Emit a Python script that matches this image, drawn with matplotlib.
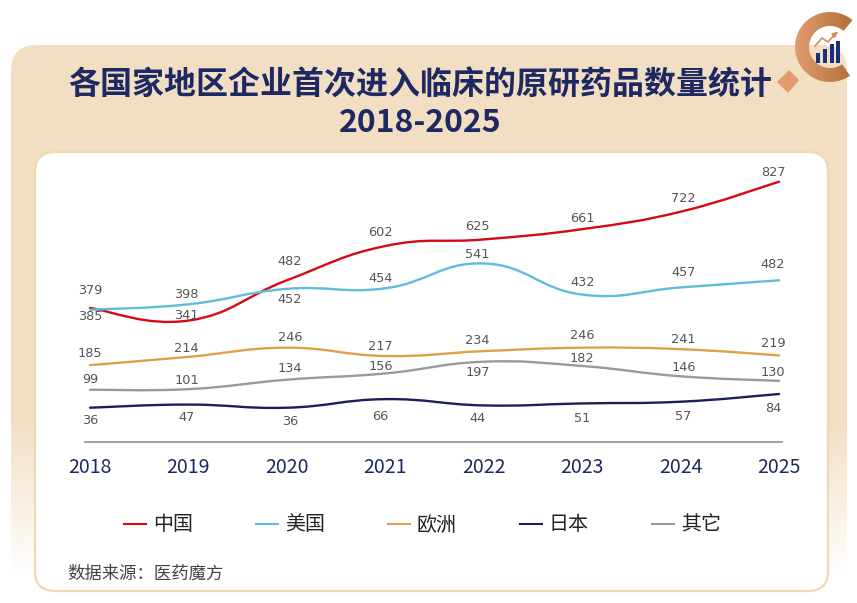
import numpy as np
import matplotlib.pyplot as plt
from matplotlib.path import Path
from matplotlib.patches import PathPatch, FancyBboxPatch, Wedge, Polygon, Rectangle
from matplotlib.lines import Line2D
from matplotlib.colors import to_rgb

plt.rcParams['font.family'] = ['Noto Sans CJK SC', 'DejaVu Sans']

# data
years = ['2018', '2019', '2020', '2021', '2022', '2023', '2024', '2025']
china = [385, 341, 482, 602, 625, 661, 722, 827]
usa = [379, 398, 452, 454, 541, 432, 457, 482]
europe = [185, 214, 246, 217, 234, 246, 241, 219]
japan = [36, 47, 36, 66, 44, 51, 57, 84]
others = [99, 101, 134, 156, 197, 182, 146, 130]
names = ['中国', '美国', '欧洲', '日本', '其它']

colors = ['#d40b14', '#5ebddc', '#e0a048', '#1a1f5c', '#9a9a9a']

# label offsets in pixels (up is positive)
label_up = [
    [-9, 5, 19, 14, 13, 11, 13, 9],
    [19, 10, -11, 10, 9, 12, 15, 16],
    [12, 8, 10, 9, 11, 12, 10, 12],
    [-13, -13, -14, -17, -13, -15, -15, -14],
    [10, 9, 11, 7, -11, 7, 9, 8],
]
label_dx = [0, -2, 3, -5, -6, 0, 3, -6]


def smooth_path(xs, ys, k=0.22):
    n = len(xs)
    verts = [(xs[0], ys[0])]
    codes = [Path.MOVETO]
    for i in range(n - 1):
        a = i - 1 if i > 0 else i
        b = i + 2 if i + 2 < n else i + 1
        c1 = (xs[i] + k * (xs[i + 1] - xs[a]), ys[i] + k * (ys[i + 1] - ys[a]))
        c2 = (xs[i + 1] - k * (xs[b] - xs[i]), ys[i + 1] - k * (ys[b] - ys[i]))
        verts += [c1, c2, (xs[i + 1], ys[i + 1])]
        codes += [Path.CURVE4] * 3
    return Path(verts, codes)


fig = plt.figure(figsize=(8.57, 6.03), dpi=100)
fig.patch.set_facecolor('white')

# background in pixel coordinates
bg = fig.add_axes([0, 0, 1, 1], zorder=0)
bg.set_xlim(0, 857)
bg.set_ylim(603, 0)
bg.axis('off')

beige = '#f2dfc3'
panel = FancyBboxPatch((11, 45), 836, 570, boxstyle='round,pad=0,rounding_size=26',
                       facecolor='none', edgecolor='none')
bg.add_patch(panel)
grad = np.zeros((300, 1, 4))
grad[..., :3] = to_rgb(beige)
gy = np.linspace(45, 615, 300)
grad[:, 0, 3] = np.clip((575 - gy) / (575 - 420), 0, 1)
im = bg.imshow(grad, extent=(11, 847, 615, 45), aspect='auto', interpolation='bilinear')
im.set_clip_path(panel)

card = FancyBboxPatch((35, 152), 793, 439, boxstyle='round,pad=0,rounding_size=20',
                      facecolor='white', edgecolor='#f0d8b2', linewidth=1.6)
bg.add_patch(card)

# logo
ring = Wedge((830, 47), 35, 55, 310, width=14, facecolor='none', edgecolor='none')
bg.add_patch(ring)
cg = np.zeros((1, 100, 3))
c_left, c_right = np.array(to_rgb('#e29b70')), np.array(to_rgb('#a3662c'))
for j in range(100):
    cg[0, j] = c_left + (c_right - c_left) * j / 99
im2 = bg.imshow(cg, extent=(795, 866, 82, 12), aspect='auto', interpolation='bilinear')
im2.set_clip_path(ring)
bg.add_patch(Polygon([(777, 82), (789, 70), (799, 80), (788, 93)], closed=True,
                     facecolor='#e39a6c', edgecolor='none'))
for bx, top in zip([816, 823, 830, 836], [53, 49, 44, 41]):
    bg.add_patch(Rectangle((bx, top), 4, 63 - top, facecolor='#1b2f7c', edgecolor='none'))
bg.plot([815, 822, 828, 836], [46, 38, 42, 33], color='#d98a5a', lw=1.2)
bg.annotate('', xy=(840, 30), xytext=(834, 35),
            arrowprops=dict(arrowstyle='-|>', color='#d98a5a', lw=1.2, mutation_scale=7))
bg.set_xlim(0, 857)
bg.set_ylim(603, 0)

# titles
navy = '#1e2862'
bg.text(420, 86, '各国家地区企业首次进入临床的原研药品数量统计', ha='center', va='center',
        fontsize=23, fontweight='bold', color=navy)
bg.text(420, 123, '2018-2025', ha='center', va='center',
        fontsize=23, fontweight='bold', color=navy)
bg.text(67, 574, '数据来源：医药魔方', ha='left', va='center', fontsize=12.5, color='#444444')

# chart
ax = fig.add_axes([85 / 857, 161 / 603, 697 / 857, 282 / 603], zorder=2)
ax.set_facecolor('none')
x = np.arange(len(years))
series = [china, usa, europe, japan, others]
for vals, col, ups in zip(series, colors, label_up):
    ax.add_patch(PathPatch(smooth_path(x, vals), facecolor='none', edgecolor=col,
                           lw=1.7, capstyle='round'))
    for i, v in enumerate(vals):
        ax.annotate(str(v), (x[i], v), xytext=(label_dx[i], ups[i]), textcoords='offset pixels',
                    ha='center', va='center', fontsize=9.3, color='#555555',
                    family='DejaVu Sans')

ax.set_xlim(-0.051, 7.03)
ax.set_ylim(-84, 903)
ax.set_xticks(x)
ax.set_xticklabels(years, fontsize=14, color=navy)
ax.tick_params(axis='x', length=0, pad=10.5)
ax.set_yticks([])
for s in ['top', 'left', 'right']:
    ax.spines[s].set_visible(False)
ax.spines['bottom'].set_color('#9a9a9a')
ax.spines['bottom'].set_linewidth(1.3)

handles = [Line2D([], [], color=c, lw=1.5) for c in colors]
fig.legend(handles, names, loc='center', bbox_to_anchor=(422.5 / 857, 1 - 525 / 603), ncol=5,
           frameon=False, fontsize=14.4, handlelength=1.1, handletextpad=0.35,
           columnspacing=3.15, labelcolor='#222222')

fig.savefig('out.png', dpi=100, facecolor='white')
